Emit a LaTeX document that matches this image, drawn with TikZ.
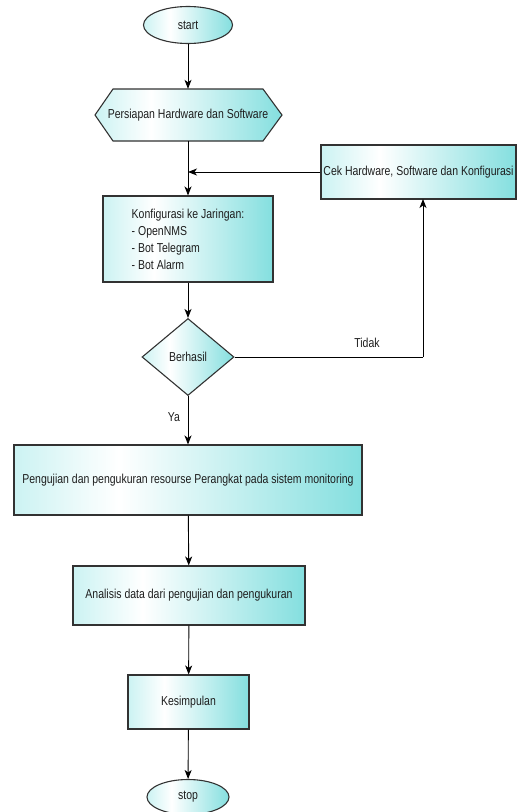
\documentclass[tikz,border=0pt]{standalone}
\usepackage{fontspec}
\setmainfont{Liberation Sans}[FakeStretch=0.81]
\usetikzlibrary{shapes.geometric,arrows.meta}
\definecolor{tealL}{RGB}{118,222,222}
\definecolor{tealR}{RGB}{44,200,200}
\definecolor{edge}{RGB}{50,50,50}
\definecolor{txt}{RGB}{30,30,30}
\pgfdeclarehorizontalshading{cyanfade}{100bp}{color(0bp)=(tealL); color(40bp)=(white); color(100bp)=(tealR)}
\tikzset{
  fillstyle/.style={draw=edge, line width=1.1pt, shading=cyanfade},
  fbox/.style={fillstyle, font=\fontsize{13}{17}\selectfont, text=txt, inner sep=2pt, anchor=center},
  procbox/.style={fbox, rectangle},
  termbox/.style={fbox, ellipse, inner sep=0pt},
  decbox/.style={fbox, diamond, inner sep=0pt},
  hexlabel/.style={rectangle, font=\fontsize{13}{17}\selectfont, text=txt, inner sep=0pt, anchor=center},
  flow/.style={line width=0.9pt, -{Stealth[length=9pt,width=7pt,inset=2.5pt]}},
  plain/.style={line width=0.9pt},
  lbl/.style={font=\fontsize{13}{17}\selectfont, text=txt, inner sep=0pt}
}
\begin{document}
\begin{tikzpicture}[x=1bp,y=-1bp]
\useasboundingbox (0,0) rectangle (518,812);
\node[termbox, minimum width=89bp, minimum height=37bp] (start) at (188,25) {start};
\path[fillstyle] (95,115) -- (113,89) -- (263,89) -- (282,115) -- (263,141) -- (113,141) -- cycle;
\node[hexlabel, minimum width=187bp, minimum height=52bp] (prep) at (188,115) {Persiapan Hardware dan Software};
\node[procbox, minimum width=195bp, minimum height=54bp] (cek) at (418.5,172) {Cek Hardware, Software dan Konfigurasi};
\node[procbox, minimum width=170bp, minimum height=86bp, align=left] (konf) at (188,239) {Konfigurasi ke Jaringan:\\- OpenNMS\\- Bot Telegram\\- Bot Alarm};
\node[decbox, minimum width=92bp, minimum height=77bp] (dec) at (188,357) {Berhasil};
\node[procbox, minimum width=348bp, minimum height=70bp] (uji) at (188,480) {Pengujian dan pengukuran resourse Perangkat pada sistem monitoring};
\node[procbox, minimum width=232bp, minimum height=59bp] (ana) at (189,595.5) {Analisis data dari pengujian dan pengukuran};
\node[procbox, minimum width=121bp, minimum height=54bp] (kes) at (188.5,702) {Kesimpulan};
\node[termbox, minimum width=82bp, minimum height=35bp] (stop) at (188,797) {stop};

\coordinate (join) at (188,172);
\coordinate (corner) at (423,357);
\coordinate (cekin) at (423,199);

\draw[flow] (start) -- (prep);
\draw[flow] (prep) -- (konf);
\draw[flow] (cek.west) -- (join);
\draw[flow] (konf) -- (dec);
\draw[plain] (dec.east) -- (corner);
\draw[flow] (corner) -- (cekin);
\draw[flow] (dec) -- (uji);
\draw[flow] (uji) -- (ana);
\draw[flow] (ana) -- (kes);
\draw[flow] (kes) -- (stop);

\node[lbl] (tidak) at (367,343) {Tidak};
\node[lbl] (ya) at (174,417) {Ya};
\end{tikzpicture}
\end{document}
